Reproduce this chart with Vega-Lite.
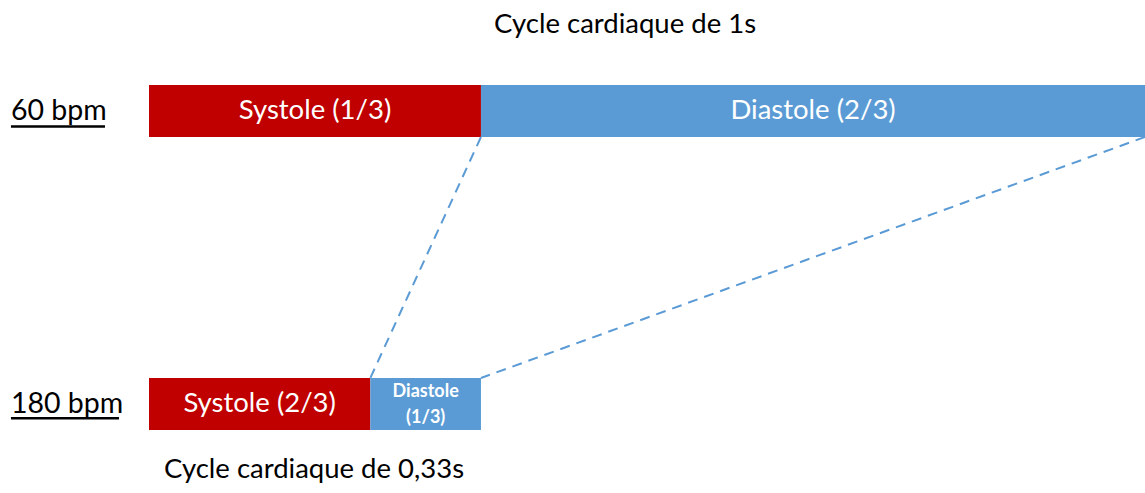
{
  "$schema": "https://vega.github.io/schema/vega-lite/v6.json",
  "width": 996,
  "height": 345,
  "autosize": "none",
  "padding": {"left": 149, "top": 85, "right": 0, "bottom": 63},
  "background": "white",
  "config": {"view": {"stroke": null}, "font": "Lato"},
  "datasets": {
    "bars": [
      {"rate": "60 bpm", "phase": "Systole", "start": 0, "end": 0.3333, "top": 0, "bottom": 1},
      {"rate": "60 bpm", "phase": "Diastole", "start": 0.3333, "end": 1, "top": 0, "bottom": 1},
      {"rate": "180 bpm", "phase": "Systole", "start": 0, "end": 0.2222, "top": 5.635, "bottom": 6.635},
      {"rate": "180 bpm", "phase": "Diastole", "start": 0.2222, "end": 0.3333, "top": 5.635, "bottom": 6.635}
    ],
    "links": [
      {"t1": 0.3333, "y1": 1, "t2": 0.2222, "y2": 5.635},
      {"t1": 1, "y1": 1, "t2": 0.3333, "y2": 5.635}
    ],
    "barLabels": [
      {"label": "Systole (1/3)", "t": 0.1667, "y": 0.5},
      {"label": "Diastole (2/3)", "t": 0.6667, "y": 0.5},
      {"label": "Systole (2/3)", "t": 0.1111, "y": 6.135}
    ],
    "smallLabels": [
      {"label": "Diastole\n(1/3)", "t": 0.2778, "y": 5.9}
    ],
    "rateLabels": [
      {"label": "60 bpm", "t": -0.1386, "tEnd": -0.0442, "y": 0.5, "uy": 0.8},
      {"label": "180 bpm", "t": -0.1386, "tEnd": -0.0301, "y": 6.135, "uy": 6.41}
    ],
    "captions": [
      {"label": "Cycle cardiaque de 1s", "t": 0.478, "y": -1.154},
      {"label": "Cycle cardiaque de 0,33s", "t": 0.1657, "y": 7.404}
    ]
  },
  "layer": [
    {
      "data": {"name": "bars"},
      "mark": {"type": "rect"},
      "encoding": {
        "x": {"field": "start", "type": "quantitative", "scale": {"domain": [0, 1], "nice": false, "zero": false}, "axis": null},
        "x2": {"field": "end"},
        "y": {"field": "top", "type": "quantitative", "scale": {"domain": [0, 6.635], "nice": false, "zero": false, "reverse": true}, "axis": null},
        "y2": {"field": "bottom"},
        "color": {"field": "phase", "type": "nominal", "scale": {"domain": ["Systole", "Diastole"], "range": ["#C00000", "#5B9BD5"]}, "legend": null}
      }
    },
    {
      "data": {"name": "links"},
      "mark": {"type": "rule", "color": "#5B9BD5", "strokeWidth": 2, "strokeDash": [10, 7]},
      "encoding": {
        "x": {"field": "t1", "type": "quantitative", "scale": {"domain": [0, 1], "nice": false, "zero": false}, "axis": null},
        "x2": {"field": "t2"},
        "y": {"field": "y1", "type": "quantitative", "scale": {"domain": [0, 6.635], "nice": false, "zero": false, "reverse": true}, "axis": null},
        "y2": {"field": "y2"}
      }
    },
    {
      "data": {"name": "barLabels"},
      "mark": {"type": "text", "color": "white", "fontSize": 27.5, "align": "center", "baseline": "middle"},
      "encoding": {
        "x": {"field": "t", "type": "quantitative"},
        "y": {"field": "y", "type": "quantitative"},
        "text": {"field": "label"}
      }
    },
    {
      "data": {"name": "smallLabels"},
      "mark": {"type": "text", "color": "white", "fontSize": 18, "fontWeight": "bold", "align": "center", "baseline": "middle", "lineBreak": "\n", "lineHeight": 26},
      "encoding": {
        "x": {"field": "t", "type": "quantitative"},
        "y": {"field": "y", "type": "quantitative"},
        "text": {"field": "label"}
      }
    },
    {
      "data": {"name": "rateLabels"},
      "mark": {"type": "text", "color": "black", "fontSize": 28.5, "align": "left", "baseline": "middle"},
      "encoding": {
        "x": {"field": "t", "type": "quantitative"},
        "y": {"field": "y", "type": "quantitative"},
        "text": {"field": "label"}
      }
    },
    {
      "data": {"name": "rateLabels"},
      "mark": {"type": "rule", "color": "black", "strokeWidth": 2.5},
      "encoding": {
        "x": {"field": "t", "type": "quantitative"},
        "x2": {"field": "tEnd"},
        "y": {"field": "uy", "type": "quantitative"}
      }
    },
    {
      "data": {"name": "captions"},
      "mark": {"type": "text", "color": "black", "fontSize": 27.5, "align": "center", "baseline": "middle"},
      "encoding": {
        "x": {"field": "t", "type": "quantitative"},
        "y": {"field": "y", "type": "quantitative"},
        "text": {"field": "label"}
      }
    }
  ]
}
